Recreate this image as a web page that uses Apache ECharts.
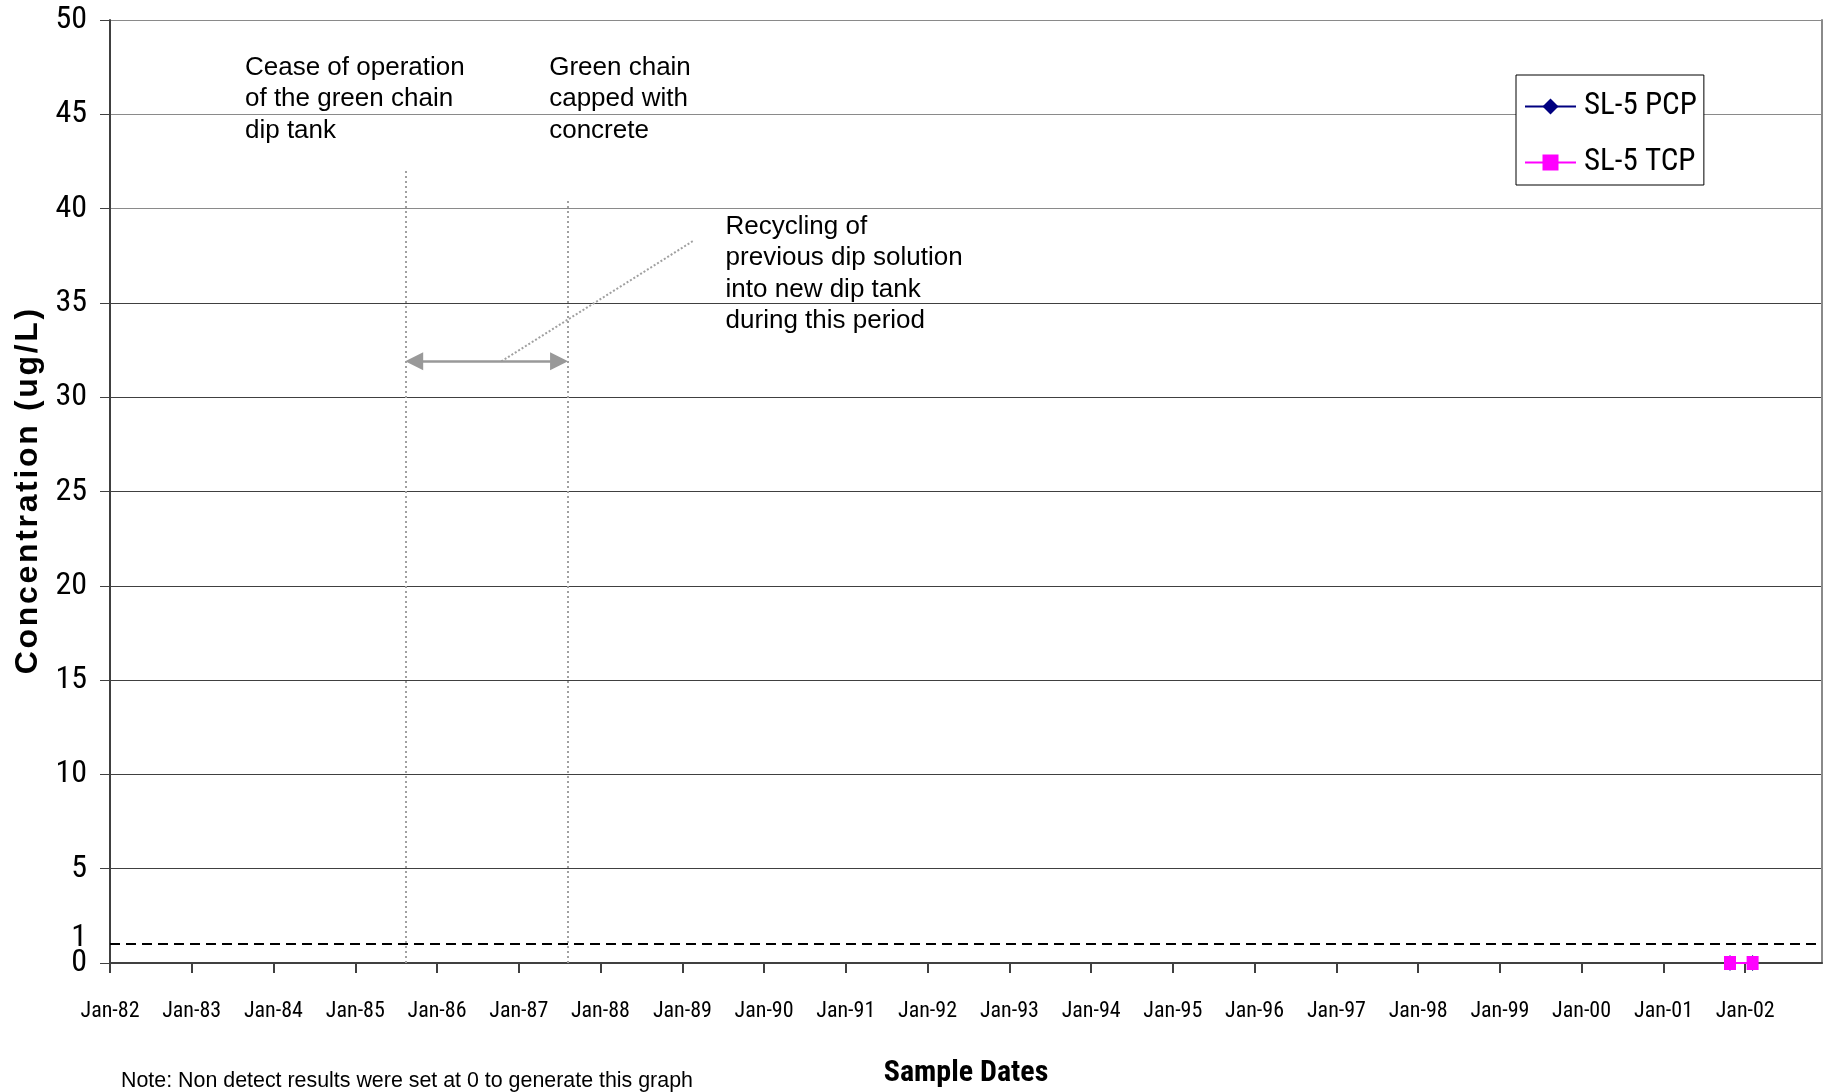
<!DOCTYPE html>
<html>
<head>
<meta charset="utf-8">
<script src="https://cdn.jsdelivr.net/npm/echarts@6/dist/echarts.min.js"></script>
<style>
html,body{margin:0;padding:0;background:#fff;}
#chart{width:1827px;height:1092px;}
</style>
</head>
<body>
<div id="chart"></div>
<script>
// ---- data ----
const sampleDates = ['2001-10-25', '2002-02-03'];
const pcpValues = [0, 0];
const tcpValues = [0, 0];
const seriesNames = ['SL-5 PCP', 'SL-5 TCP'];
const yTickValues = [0, 5, 10, 15, 20, 25, 30, 35, 40, 45, 50];
const xTickYears = [1982,1983,1984,1985,1986,1987,1988,1989,1990,1991,1992,1993,1994,1995,1996,1997,1998,1999,2000,2001,2002];
const xTickLabels = ['Jan-82','Jan-83','Jan-84','Jan-85','Jan-86','Jan-87','Jan-88','Jan-89','Jan-90','Jan-91','Jan-92','Jan-93','Jan-94','Jan-95','Jan-96','Jan-97','Jan-98','Jan-99','Jan-00','Jan-01','Jan-02'];
const detectionLimit = 1;
// annotation anchors (data coordinates)
const eventDates = ['1985-08-12', '1987-08-09'];
const eventLineTops = [42, 40.4];
const arrowLevel = 31.9;
const arrowInsetDays = 40;
const leaderStart = ['1986-10-15', 31.9];
const leaderEnd = ['1989-02-20', 38.3];
const noteTexts = [
  'Cease of operation\nof the green chain\ndip tank',
  'Green chain\ncapped with\nconcrete',
  'Recycling of\nprevious dip solution\ninto new dip tank\nduring this period'
];
const noteAnchors = [['1983-08-27', 45.8], ['1987-05-17', 45.8], ['1989-07-13', 36.55]];

const NARROW = "'Roboto Condensed','DejaVu Sans Condensed',sans-serif";
const SANS = "'Liberation Sans',Arial,sans-serif";
const DAY = 24 * 3600 * 1000;
const YEAR = 365 * DAY;

const yTitle = 'Concentration (ug/L)'.split('').join('\u200A');
const shiftDate = (s, days) => new Date(new Date(s + 'T00:00:00').getTime() + days * DAY);

const chart = echarts.init(document.getElementById('chart'), null, {renderer: 'canvas'});
chart.setOption({
  animation: false,
  backgroundColor: '#fff',
  grid: {left: 110, right: 5, top: 20, bottom: 129, containLabel: false, outerBoundsMode: 'none'},
  legend: {
    data: seriesNames,
    orient: 'vertical',
    left: 1516, top: 75,
    backgroundColor: '#fff',
    borderColor: '#000', borderWidth: 1,
    padding: [16, 7, 7, 8],
    itemWidth: 51, itemHeight: 20, itemGap: 25,
    textStyle: {fontFamily: NARROW, fontSize: 31, color: '#000', padding: [0, 0, 0, 3]}
  },
  xAxis: {
    type: 'time',
    min: '1982-01-01', max: '2002-12-10',
    minInterval: YEAR, maxInterval: YEAR + 2 * DAY,
    name: 'Sample Dates', nameLocation: 'middle', nameGap: 95,
    nameTextStyle: {fontFamily: NARROW, fontSize: 30, fontWeight: 'bold', color: '#000'},
    axisLine: {show: true, lineStyle: {color: '#404040', width: 2}},
    axisTick: {show: true, length: 10, lineStyle: {color: '#404040', width: 2}},
    splitLine: {show: false},
    axisLabel: {
      fontFamily: NARROW, fontSize: 22, color: '#000', margin: 37,
      showMinLabel: true, showMaxLabel: false, hideOverlap: false,
      formatter: function (v) {
        const d = new Date(v);
        if (d.getMonth() !== 0 || d.getDate() !== 1) return '';
        const i = xTickYears.indexOf(d.getFullYear());
        return i >= 0 ? xTickLabels[i] : '';
      }
    }
  },
  yAxis: [{
    type: 'value', min: 0, max: 50, interval: 5,
    name: yTitle, nameLocation: 'middle', nameRotate: 90, nameGap: 50,
    nameTextStyle: {fontFamily: SANS, fontSize: 32, fontWeight: 'bold', color: '#000'},
    axisLine: {show: true, lineStyle: {color: '#404040', width: 2}},
    axisTick: {show: true, length: 10, customValues: yTickValues, lineStyle: {color: '#404040', width: 1}},
    splitLine: {show: true, lineStyle: {width: 1, color: ['#404040','#404040','#404040','#404040','#404040','#404040','#404040','#404040','#8a8a8a','#8a8a8a','#8a8a8a']}},
    axisLabel: {
      customValues: yTickValues, showMinLabel: true, hideOverlap: false,
      fontFamily: NARROW, fontSize: 32, color: '#000', margin: 23, padding: [4, 0, 0, 0]
    }
  }, {
    type: 'value', min: 0, max: 50, position: 'right',
    axisLine: {show: true, lineStyle: {color: '#8a8a8a', width: 2}},
    axisTick: {show: false}, axisLabel: {show: false}, splitLine: {show: false}
  }],
  series: [
    {
      name: seriesNames[0], type: 'line',
      data: sampleDates.map((d, i) => [d, pcpValues[i]]),
      color: '#000080', symbol: 'diamond', symbolSize: [11, 16],
      lineStyle: {width: 2, color: '#000080'}, itemStyle: {color: '#000080'},
      clip: false, z: 3
    },
    {
      name: seriesNames[1], type: 'line',
      data: sampleDates.map((d, i) => [d, tcpValues[i]]),
      color: '#FF00FF', symbol: 'rect', symbolSize: [12, 14],
      lineStyle: {width: 2, color: '#FF00FF'}, itemStyle: {color: '#FF00FF'},
      clip: false, z: 4
    },
    {
      name: 'annotations', type: 'line', data: [], silent: true, z: 2,
      markLine: {
        silent: true, symbol: 'none', animation: false,
        label: {show: false},
        data: [
          [{coord: [eventDates[0], 0], lineStyle: {type: [2, 3], color: '#a0a0a0', width: 2}}, {coord: [eventDates[0], eventLineTops[0]]}],
          [{coord: [eventDates[1], 0], lineStyle: {type: [2, 3], color: '#a0a0a0', width: 2}}, {coord: [eventDates[1], eventLineTops[1]]}],
          [{coord: leaderStart, lineStyle: {type: [2, 2], color: '#a0a0a0', width: 2}}, {coord: leaderEnd}],
          [{coord: [shiftDate(eventDates[0], arrowInsetDays), arrowLevel], symbol: 'triangle', symbolSize: 18, lineStyle: {type: 'solid', color: '#999', width: 2.5}},
           {coord: [shiftDate(eventDates[1], -arrowInsetDays), arrowLevel], symbol: 'triangle', symbolSize: 18}],
          {yAxis: detectionLimit, lineStyle: {type: [10, 6], color: '#000', width: 2},
           label: {show: true, position: 'start', distance: 23, formatter: String(detectionLimit),
                   fontFamily: NARROW, fontSize: 32, color: '#000', offset: [0, -6]}}
        ]
      },
      markPoint: {
        silent: true, symbol: 'circle', symbolSize: 0, animation: false,
        label: {show: true, position: 'right', distance: 0, fontFamily: SANS, fontSize: 26, lineHeight: 31.5, color: '#000', align: 'left'},
        data: noteAnchors.map((c, i) => ({coord: c, value: noteTexts[i], label: {formatter: noteTexts[i]}}))
      }
    }
  ],
  graphic: [{
    type: 'text', left: 121, top: 1071,
    style: {text: 'Note: Non detect results were set at 0 to generate this graph', fontFamily: SANS, fontSize: 21.4, fill: '#000'}
  }]
});
</script>
</body>
</html>
